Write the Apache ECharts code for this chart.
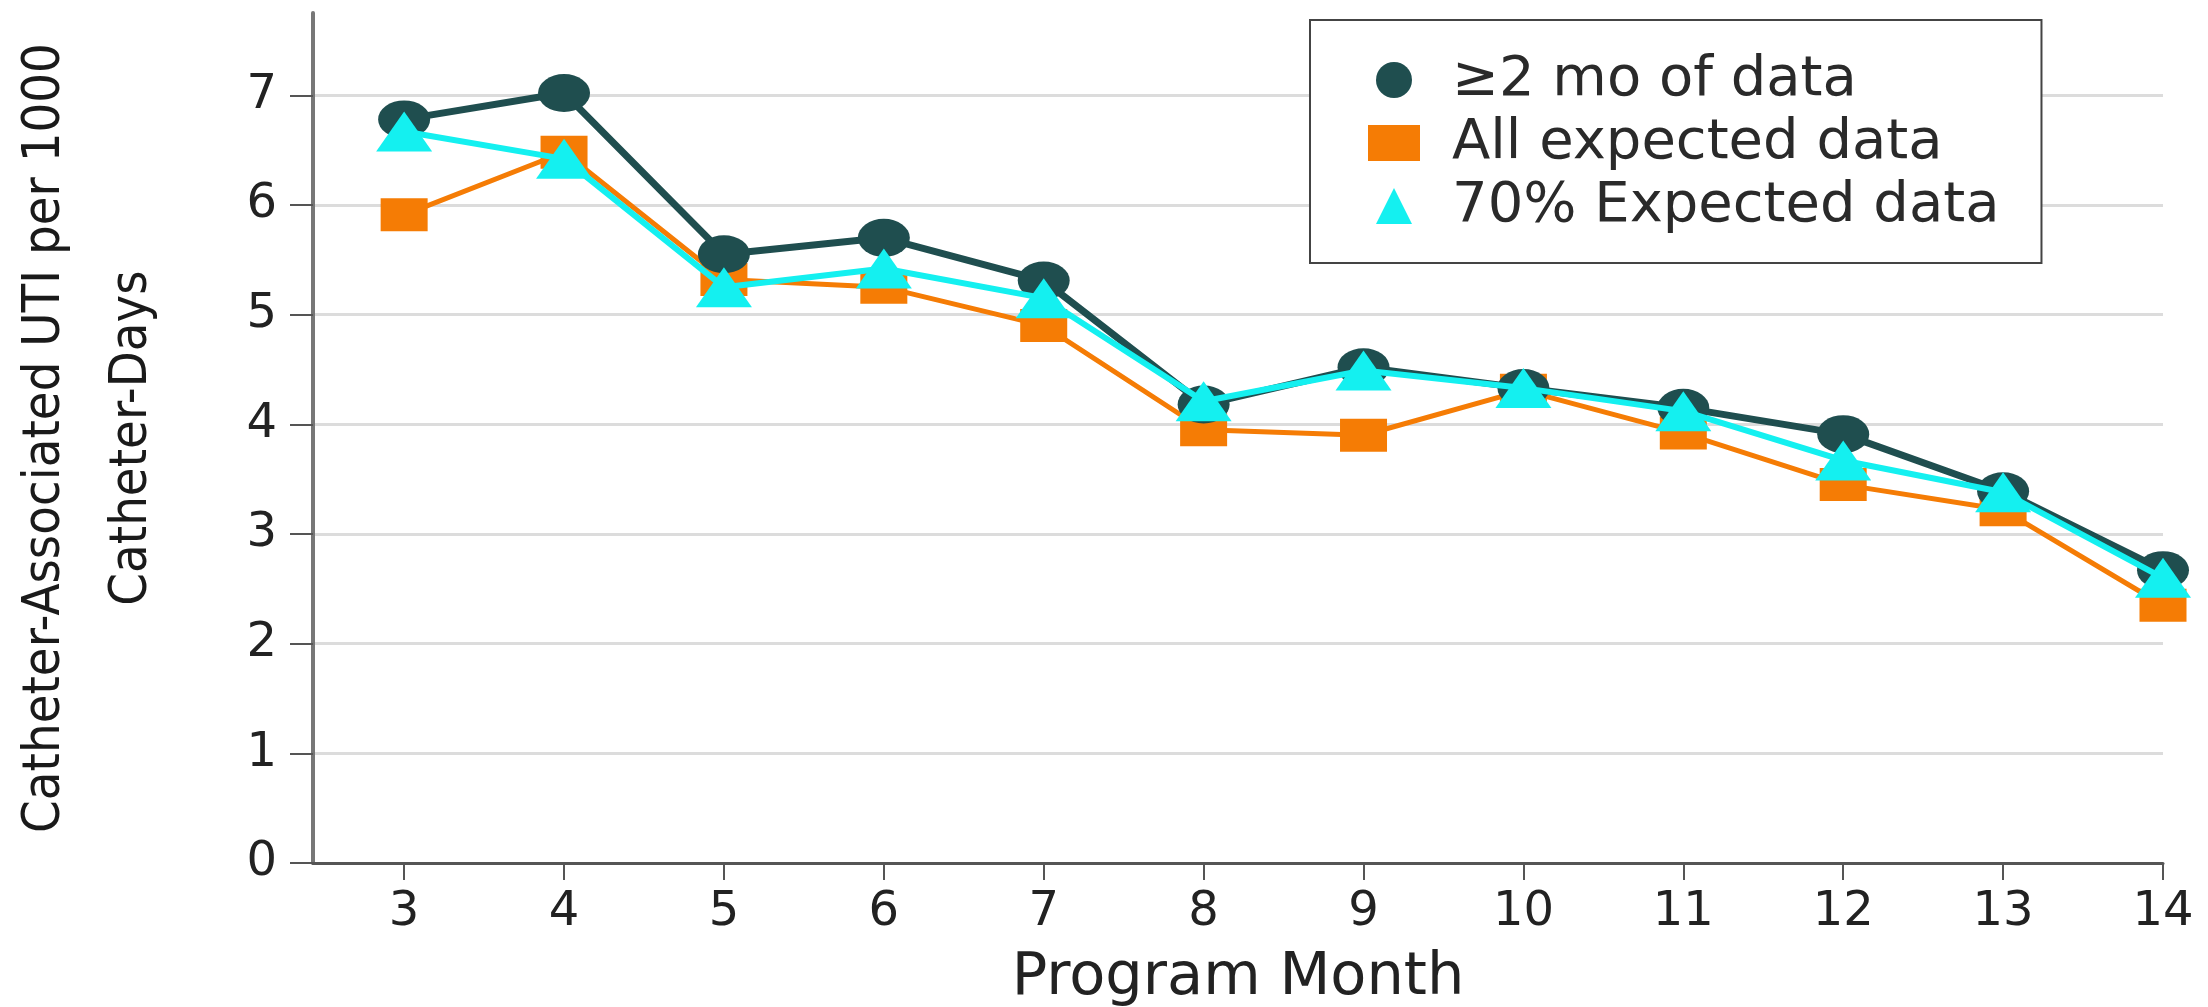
<!DOCTYPE html>
<html>
<head>
<meta charset="utf-8">
<script src="https://cdn.jsdelivr.net/npm/echarts@6/dist/echarts.min.js"></script>
<style>
html,body{margin:0;padding:0;background:#fff;}
#chart{width:2208px;height:1007px;}
</style>
</head>
<body>
<div id="chart"></div>
<script>
// ---- data ----
var months = [3, 4, 5, 6, 7, 8, 9, 10, 11, 12, 13, 14];
var yTicks = [0, 1, 2, 3, 4, 5, 6, 7];
var seriesNames = ['\u22652 mo of data', 'All expected data', '70% Expected data'];
var ge2mo       = [6.78, 7.02, 5.55, 5.70, 5.31, 4.18, 4.52, 4.33, 4.15, 3.91, 3.39, 2.67];
var allExpected = [5.91, 6.48, 5.32, 5.25, 4.90, 3.95, 3.90, 4.31, 3.92, 3.45, 3.22, 2.35];
var pct70       = [6.67, 6.42, 5.25, 5.42, 5.15, 4.21, 4.49, 4.33, 4.12, 3.67, 3.38, 2.60];
var yTitleLine1 = 'Catheter-Associated UTI per 1000';
var yTitleLine2 = 'Catheter-Days';

function pairs(vals) { return months.map(function (m, i) { return [m, vals[i]]; }); }

// fit the condensed y-axis title to the length it has in the reference
var yFamily = "'Liberation Sans Narrow', 'DejaVu Sans Condensed', 'DejaVu Sans'";
var yWeight = 'normal condensed';
var mctx = document.createElement('canvas').getContext('2d');
mctx.font = 'normal ' + yWeight + ' 100px ' + yFamily;
var w100 = mctx.measureText(yTitleLine1).width || 1700;
var ySize = Math.min(64, 100 * 790 / w100);
var yLine = 87;

var ELLIPSE = 'path://M0,1A1,1,0,1,1,2,1A1,1,0,1,1,0,1Z';
var TRI = 'path://M1,0L2,2L0,2Z';
var cDark = '#1f4e4f', cOrange = '#f57c05', cCyan = '#14f0f0';
var tickFont = 'DejaVu Sans';

var chart = echarts.init(document.getElementById('chart'), null, {renderer: 'canvas'});
chart.setOption({
  backgroundColor: '#ffffff',
  animation: false,
  grid: {left: 313, right: 45, top: 13, bottom: 144, containLabel: false, outerBoundsMode: 'none'},
  xAxis: {
    type: 'value', min: 2.43, max: 14,
    name: 'Program Month', nameLocation: 'middle', nameGap: 86,
    nameTextStyle: {fontSize: 59, fontFamily: tickFont, color: '#222'},
    axisLine: {show: true, onZero: false, lineStyle: {color: '#555', width: 3}},
    axisTick: {show: true, customValues: months, length: 17, lineStyle: {color: '#555', width: 2}},
    axisLabel: {customValues: months, fontSize: 48, fontFamily: tickFont, color: '#222', margin: 26},
    splitLine: {show: false}
  },
  yAxis: {
    type: 'value', min: 0, max: 7.75,
    name: yTitleLine1 + '\n' + yTitleLine2,
    nameLocation: 'middle', nameGap: 137,
    nameTextStyle: {fontSize: ySize, lineHeight: yLine, fontFamily: yFamily, fontWeight: yWeight, color: '#1a1a1a', align: 'center'},
    axisLine: {show: true, lineStyle: {color: '#777', width: 4}},
    axisTick: {show: true, customValues: yTicks, length: 23, lineStyle: {color: '#555', width: 2}},
    axisLabel: {customValues: yTicks, fontSize: 48, fontFamily: tickFont, color: '#222', margin: 36},
    splitLine: {show: true, lineStyle: {color: '#dcdcdc', width: 3}}
  },
  legend: {
    orient: 'vertical', left: 1310, top: 20,
    padding: [32, 42, 29, 58],
    borderColor: '#444', borderWidth: 2, backgroundColor: '#fff',
    itemWidth: 52, itemHeight: 36, itemGap: 7,
    textStyle: {fontSize: 56, lineHeight: 50, fontFamily: tickFont, color: '#2a2a2a', padding: [0, 0, 0, 27]},
    data: [
      {name: seriesNames[0], icon: ELLIPSE},
      {name: seriesNames[1], icon: 'rect'},
      {name: seriesNames[2], icon: TRI}
    ]
  },
  series: [
    {
      name: seriesNames[1], type: 'line', data: pairs(allExpected), z: 2,
      symbol: 'rect', symbolSize: [47, 33],
      lineStyle: {color: cOrange, width: 5}, itemStyle: {color: cOrange}
    },
    {
      name: seriesNames[0], type: 'line', data: pairs(ge2mo), z: 3,
      symbol: ELLIPSE, symbolSize: [52, 38],
      lineStyle: {color: cDark, width: 7}, itemStyle: {color: cDark}
    },
    {
      name: seriesNames[2], type: 'line', data: pairs(pct70), z: 4,
      symbol: TRI, symbolSize: [56, 40],
      lineStyle: {color: cCyan, width: 6}, itemStyle: {color: cCyan}
    }
  ]
});
</script>
</body>
</html>
